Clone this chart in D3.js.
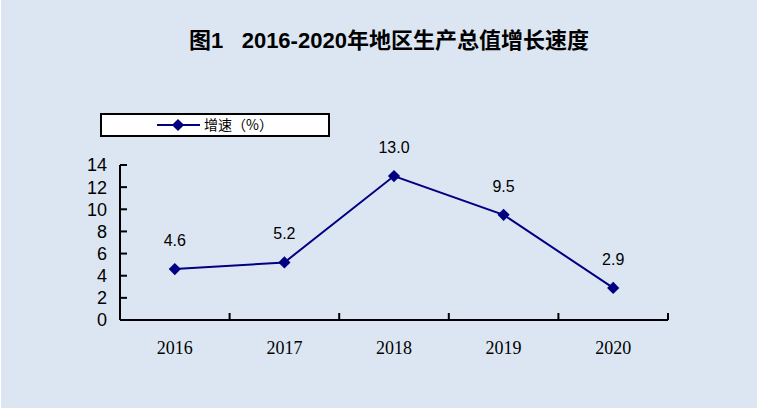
<!DOCTYPE html>
<html>
<head>
<meta charset="utf-8">
<script src="https://cdn.jsdelivr.net/npm/d3@7/dist/d3.min.js"></script>
<style>
  html, body { margin: 0; padding: 0; background: #fff; }
  svg { display: block; }
</style>
</head>
<body>
<div id="chart"></div>
<script>
const years = ["2016", "2017", "2018", "2019", "2020"];
const growth = [4.6, 5.2, 13.0, 9.5, 2.9];
const yTicks = [0, 2, 4, 6, 8, 10, 12, 14];
const titleText = "图1   2016-2020年地区生产总值增长速度";
const legendText = "增速（%）";

const width = 758, height = 410;
const margin = { top: 165, right: 90, bottom: 90, left: 120 };
const svg = d3.select("#chart").append("svg").attr("width", width).attr("height", height);

svg.append("rect").attr("x", 1).attr("y", 0).attr("width", width - 2).attr("height", 408).attr("fill", "#dce6f2");

const xScale = d3.scaleBand().domain(years).range([margin.left, width - margin.right]);
const yScale = d3.scaleLinear().domain([0, 14]).range([height - margin.bottom, margin.top]);

// title
svg.append("text").attr("x", 389).attr("y", 48).attr("text-anchor", "middle")
  .attr("font-family", "'Liberation Sans', 'Noto Sans CJK SC', sans-serif").attr("font-weight", "bold")
  .attr("font-size", 22).attr("fill", "#000").style("white-space", "pre").text(titleText);

// x axis
const xAxis = svg.append("g").attr("transform", `translate(0,${height - margin.bottom})`);
xAxis.append("line").attr("x1", margin.left).attr("x2", width - margin.right).attr("stroke", "#000").attr("stroke-width", 2);
const bounds = years.map((y) => xScale(y) + xScale.bandwidth());
xAxis.selectAll("line.tick").data(bounds).join("line").attr("class", "tick")
  .attr("x1", (d) => d).attr("x2", (d) => d).attr("y1", 0).attr("y2", -7).attr("stroke", "#000").attr("stroke-width", 2);
xAxis.selectAll("text").data(years).join("text")
  .attr("x", (d) => xScale(d) + xScale.bandwidth() / 2).attr("y", 34).attr("text-anchor", "middle")
  .attr("font-family", "'Liberation Serif', 'DejaVu Serif', serif").attr("font-size", 18).attr("fill", "#000").text((d) => d);

// y axis
const yAxis = svg.append("g").attr("transform", `translate(${margin.left},0)`);
yAxis.append("line").attr("y1", yScale(0)).attr("y2", yScale(14)).attr("stroke", "#000").attr("stroke-width", 2);
yAxis.selectAll("line.tick").data(yTicks).join("line").attr("class", "tick")
  .attr("x1", 0).attr("x2", 7).attr("y1", (d) => yScale(d)).attr("y2", (d) => yScale(d)).attr("stroke", "#000").attr("stroke-width", 2);
yAxis.selectAll("text").data(yTicks).join("text")
  .attr("x", -13).attr("y", (d) => yScale(d)).attr("dy", "0.36em").attr("text-anchor", "end")
  .attr("font-family", "'Liberation Sans', Arial, sans-serif").attr("font-size", 18).attr("fill", "#000").text((d) => d);

// line
const pts = years.map((y, i) => ({ year: y, value: growth[i] }));
const line = d3.line().x((d) => xScale(d.year) + xScale.bandwidth() / 2).y((d) => yScale(d.value));
svg.append("path").datum(pts).attr("fill", "none").attr("stroke", "#000080").attr("stroke-width", 2).attr("d", line);

const diamond = d3.symbol().type(d3.symbolDiamond2).size(95);
svg.selectAll("path.marker").data(pts).join("path").attr("class", "marker")
  .attr("transform", (d) => `translate(${xScale(d.year) + xScale.bandwidth() / 2},${yScale(d.value)})`)
  .attr("d", diamond).attr("fill", "#000080");

svg.selectAll("text.label").data(pts).join("text").attr("class", "label")
  .attr("x", (d) => xScale(d.year) + xScale.bandwidth() / 2).attr("y", (d) => yScale(d.value) - 23)
  .attr("text-anchor", "middle").attr("font-family", "'Liberation Sans', Arial, sans-serif")
  .attr("font-size", 16).attr("fill", "#000").text((d) => d.value.toFixed(1));

// legend
const legend = svg.append("g").attr("transform", "translate(101,114)");
legend.append("rect").attr("width", 228).attr("height", 22).attr("fill", "#fff").attr("stroke", "#000").attr("stroke-width", 2);
legend.append("line").attr("x1", 56).attr("x2", 99).attr("y1", 11).attr("y2", 11).attr("stroke", "#000080").attr("stroke-width", 2);
legend.append("path").attr("transform", "translate(77,11)").attr("d", diamond).attr("fill", "#000080");
legend.append("text").attr("x", 103).attr("y", 16).attr("font-family", "'Noto Sans CJK SC', sans-serif")
  .attr("font-size", 14).attr("fill", "#000").text(legendText);
</script>
</body>
</html>
